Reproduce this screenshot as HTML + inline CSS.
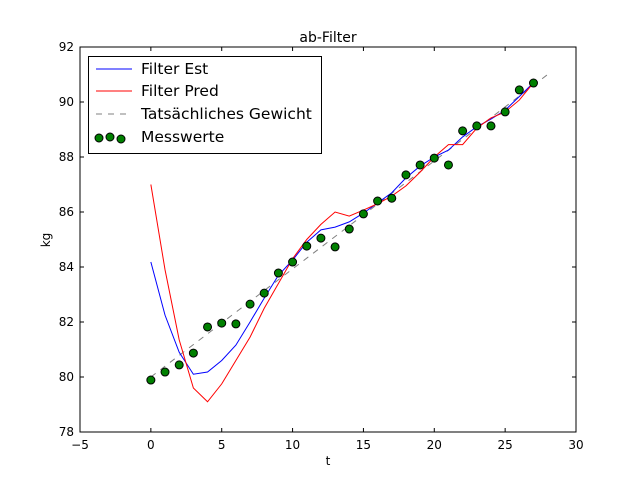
<!DOCTYPE html>
<html><head><meta charset="utf-8"><style>
body{margin:0;background:#fff}
svg text{font-family:"DejaVu Sans","Liberation Sans",sans-serif}
</style></head><body>
<svg id="c" width="640" height="480" xmlns="http://www.w3.org/2000/svg">
<rect width="640" height="480" fill="#fff"/>
</svg>
<script>
const xTicks=[-5,0,5,10,15,20,25,30];
const yTicks=[78,80,82,84,86,88,90,92];
const meas=[79.89,80.18,80.44,80.87,81.82,81.96,81.93,82.65,83.05,83.78,84.18,84.76,85.05,84.73,85.38,85.93,86.4,86.5,87.35,87.71,87.96,87.71,88.95,89.13,89.13,89.64,90.44,90.69];
const est=[84.18,82.25,80.9,80.1,80.18,80.6,81.16,82.0,82.87,83.7,84.25,84.9,85.35,85.45,85.64,85.96,86.33,86.7,87.24,87.67,88.0,88.25,88.73,89.1,89.38,89.7,90.2,90.7];
const pred=[87.0,83.9,81.35,79.6,79.1,79.75,80.6,81.45,82.5,83.4,84.3,85.0,85.55,86.0,85.85,86.07,86.3,86.58,86.95,87.45,88.0,88.45,88.45,89.05,89.42,89.64,90.07,90.7];
const truthT=[0,28];
const truthW=[80,91];
const svg=document.getElementById('c');
const NS='http://www.w3.org/2000/svg';
const L=80,R=576,T=47,B=432;
const X=v=>L+(v+5)/35*(R-L);
const Y=v=>B-(v-78)/14*(B-T);
function mk(tag,a,p){const e=document.createElementNS(NS,tag);for(const k in a)e.setAttribute(k,a[k]);(p||svg).appendChild(e);return e;}
function line(vals,color,name){
 const p=mk('polyline',{points:vals.map((v,i)=>X(i)+','+Y(v)).join(' '),fill:'none',stroke:color,'stroke-width':1});
 
 
}
const tr=mk('polyline',{points:truthT.map((t,i)=>X(t)+','+Y(truthW[i])).join(' '),fill:'none',stroke:'#808080','stroke-width':1,'stroke-dasharray':'6,6'});


line(est,'#0000ff','filter-est-line');
line(pred,'#ff0000','filter-pred-line');
meas.forEach((v,i)=>{
 const c=mk('circle',{cx:X(i),cy:Y(v),r:4,fill:'#008000',stroke:'#000','stroke-width':1});
 
 
});
const fr=mk('rect',{x:L,y:T,width:R-L,height:B-T,fill:'none',stroke:'#000','stroke-width':1});


xTicks.forEach(v=>{
 mk('line',{x1:X(v),x2:X(v),y1:B,y2:B-4,stroke:'#000'});
 mk('line',{x1:X(v),x2:X(v),y1:T,y2:T+4,stroke:'#000'});
 const t=mk('text',{x:X(v),y:B+17,'text-anchor':'middle','font-size':12});t.textContent=String(v).replace('-','\u2212');
 
 
});
yTicks.forEach(v=>{
 mk('line',{x1:L,x2:L+4,y1:Y(v),y2:Y(v),stroke:'#000'});
 mk('line',{x1:R,x2:R-4,y1:Y(v),y2:Y(v),stroke:'#000'});
 const t=mk('text',{x:L-6,y:Y(v)+4,'text-anchor':'end','font-size':12});t.textContent=v;
 
 
});
</script>
<svg width="640" height="480" style="position:absolute;left:0;top:0" xmlns="http://www.w3.org/2000/svg">
<text x="328" y="42" text-anchor="middle" font-size="14">ab-Filter</text>
<text x="328" y="465" text-anchor="middle" font-size="12">t</text>
<text x="50" y="240" text-anchor="middle" font-size="12" transform="rotate(-90 50 240)">kg</text>
<g>
<rect x="88.5" y="56.5" width="233" height="97" fill="#fff" stroke="#000"/>
<line x1="96" x2="132" y1="69" y2="69" stroke="#0000ff"/>
<text x="141" y="74" font-size="15.5">Filter Est</text>
<line x1="96" x2="132" y1="91" y2="91" stroke="#ff0000"/>
<text x="141" y="96" font-size="15.5">Filter Pred</text>
<line x1="96" x2="132" y1="114" y2="114" stroke="#808080" stroke-dasharray="6,6"/>
<text x="141" y="119" font-size="15.5">Tatsächliches Gewicht</text>
<circle cx="99" cy="138" r="4" fill="#008000" stroke="#000"/>
<circle cx="110" cy="137" r="4" fill="#008000" stroke="#000"/>
<circle cx="121" cy="139" r="4" fill="#008000" stroke="#000"/>
<text x="141" y="142" font-size="15.5">Messwerte</text>
</g>
</svg>
</body></html>
